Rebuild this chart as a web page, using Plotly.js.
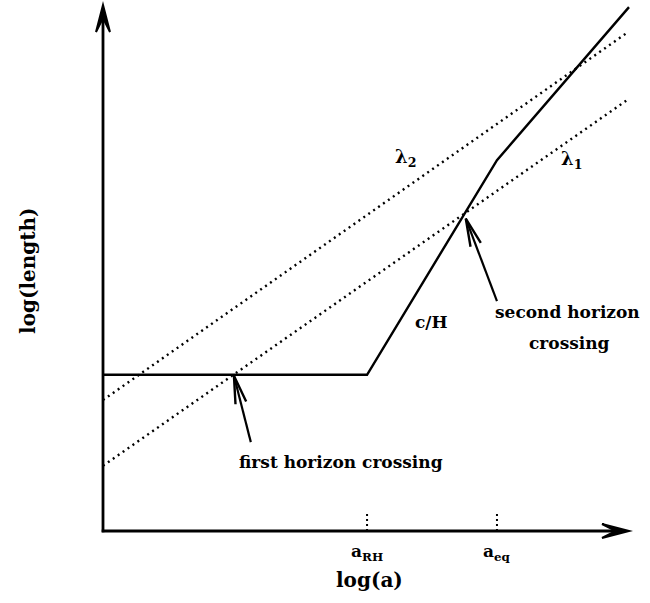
<!DOCTYPE html>
<html><head><meta charset="utf-8">
<script src="https://cdn.plot.ly/plotly-3.0.1.min.js"></script>
<style>html,body{margin:0;padding:0;background:#fff}</style>
</head><body>
<div id="chart" style="width:650px;height:603px"></div>
<script>
// Horizon-crossing sketch: two comoving scales against the Hubble length c/H,
// all on log-log axes (arbitrary units).
const hubbleX  = [0, 5.02, 7.49, 10.0];
const hubbleY  = [2.97, 2.97, 7.05, 9.96];
const lambda2X = [0, 9.96];
const lambda2Y = [2.49, 9.47];
const lambda1X = [0, 9.96];
const lambda1Y = [1.24, 8.19];
const tickVals = [5.02, 7.49];
const tickText = ['a<sub>RH</sub>', 'a<sub>eq</sub>'];
const tickMarkTop = 0.36;
const axisEndX = 10.0;
const axisEndY = 10.0;

// pixel scale (same on both axes); the plot area fills the whole page
const PX = 52.6;
const OX = 103, OY = 531, W = 650, H = 603;
const xRange = [-OX / PX, (W - OX) / PX];
const yRange = [-(H - OY) / PX, OY / PX];

// first crossing of a straight line with the polyline c/H
function crossing(lx, ly, fromIdx) {
  const m = (ly[1] - ly[0]) / (lx[1] - lx[0]);
  const f = x => ly[0] + m * (x - lx[0]);
  for (let i = fromIdx || 0; i < hubbleX.length - 1; i++) {
    const x0 = hubbleX[i], x1 = hubbleX[i + 1];
    const s = (hubbleY[i + 1] - hubbleY[i]) / (x1 - x0);
    const g = x => hubbleY[i] + s * (x - x0);
    const d0 = f(x0) - g(x0), d1 = f(x1) - g(x1);
    if (d0 === 0) return [x0, g(x0)];
    if (d0 * d1 <= 0) {
      const t = d0 / (d0 - d1);
      const x = x0 + t * (x1 - x0);
      return [x, g(x)];
    }
  }
  return null;
}

const first = crossing(lambda1X, lambda1Y, 0);
const second = crossing(lambda1X, lambda1Y, 1);

const traces = [
  {x: hubbleX, y: hubbleY, mode: 'lines', line: {color: '#000', width: 2.4}, hoverinfo: 'skip'},
  {x: lambda2X, y: lambda2Y, mode: 'lines', line: {color: '#000', width: 2.4, dash: '2px,4px'}, hoverinfo: 'skip'},
  {x: lambda1X, y: lambda1Y, mode: 'lines', line: {color: '#000', width: 2.4, dash: '2px,4px'}, hoverinfo: 'skip'}
];
tickVals.forEach(v => traces.push({
  x: [v, v], y: [0, tickMarkTop], mode: 'lines',
  line: {color: '#000', width: 2, dash: '2px,3px'}, hoverinfo: 'skip'
}));

// arrowhead helpers, sizes in pixels converted to data units
function filledHead(tx, ty, dx, dy) {
  const L = 27 / PX, hw = 7 / PX, n = 13 / PX;
  const px = -dy, py = dx;
  const pts = [
    [tx, ty],
    [tx - dx * L + px * hw, ty - dy * L + py * hw],
    [tx - dx * n, ty - dy * n],
    [tx - dx * L - px * hw, ty - dy * L - py * hw]
  ];
  return {type: 'path', xref: 'x', yref: 'y', fillcolor: '#000',
    line: {color: '#000', width: 2},
    path: 'M' + pts.map(p => p[0] + ',' + p[1]).join(' L') + ' Z'};
}
function openArrow(tail, tip) {
  const ddx = tip[0] - tail[0], ddy = tip[1] - tail[1];
  const len = Math.hypot(ddx, ddy);
  const dx = ddx / len, dy = ddy / len;
  const L = 28 / PX, hw = 5.5 / PX;
  const px = -dy, py = dx;
  const b1 = [tip[0] - dx * L + px * hw, tip[1] - dy * L + py * hw];
  const b2 = [tip[0] - dx * L - px * hw, tip[1] - dy * L - py * hw];
  return [
    {type: 'line', xref: 'x', yref: 'y', x0: tail[0], y0: tail[1], x1: tip[0], y1: tip[1],
      line: {color: '#000', width: 2.2}},
    {type: 'path', xref: 'x', yref: 'y',
      path: 'M' + b1[0] + ',' + b1[1] + ' L' + tip[0] + ',' + tip[1] + ' L' + b2[0] + ',' + b2[1],
      line: {color: '#000', width: 2.4}}
  ];
}

// arrow tails (data units), tips sit just under the crossings
const firstTail = [2.81, 1.69];
const secondTail = [7.49, 4.37];
const tipOff = 1 / PX;
const firstTip = [first[0] + (firstTail[0] - first[0]) * 0.03, first[1] - tipOff];
const secondTip = [second[0] + (secondTail[0] - second[0]) * 0.03, second[1] - 0.1];

const shapes = [
  {type: 'line', xref: 'x', yref: 'y', x0: -1.3 / PX, y0: 0, x1: axisEndX - 10 / PX, y1: 0, line: {color: '#000', width: 2.8}},
  {type: 'line', xref: 'x', yref: 'y', x0: 0, y0: -1.3 / PX, x1: 0, y1: axisEndY - 10 / PX, line: {color: '#000', width: 2.8}},
  filledHead(axisEndX, 0, 1, 0),
  filledHead(0, axisEndY, 0, 1)
].concat(openArrow(firstTail, firstTip), openArrow(secondTail, secondTip));

const FONT = 'DejaVu Serif, Liberation Serif, serif';
const txt = (text, x, y, size, extra) => Object.assign({
  text: '<b>' + text + '</b>', x: x, y: y, xref: 'x', yref: 'y', showarrow: false,
  xanchor: 'center', yanchor: 'middle',
  font: {family: FONT, size: size || 17, color: '#000'}
}, extra || {});

const annotations = [
  txt('λ<sub>2</sub>', 5.76, 7.1, 18),
  txt('λ<sub>1</sub>', 8.9, 7.05, 18),
  txt('c/H', 6.25, 3.97, 17),
  txt('second horizon', 8.84, 4.16, 17),
  txt('crossing', 8.86, 3.57, 17),
  txt('first horizon crossing', 4.52, 1.31, 17),
  txt('log(a)', 5.06, -0.93, 20),
  txt('log(length)', -1.43, 4.94, 20, {textangle: -90})
];
tickVals.forEach((v, i) => annotations.push(txt(tickText[i], v, -0.4, 17)));

const layout = {
  width: W, height: H,
  margin: {l: 0, r: 0, t: 0, b: 0},
  paper_bgcolor: '#fff', plot_bgcolor: '#fff',
  showlegend: false,
  xaxis: {range: xRange, visible: false, fixedrange: true},
  yaxis: {range: yRange, visible: false, fixedrange: true},
  shapes: shapes,
  annotations: annotations
};

Plotly.newPlot('chart', traces, layout, {displayModeBar: false, staticPlot: true});
</script>
</body></html>
